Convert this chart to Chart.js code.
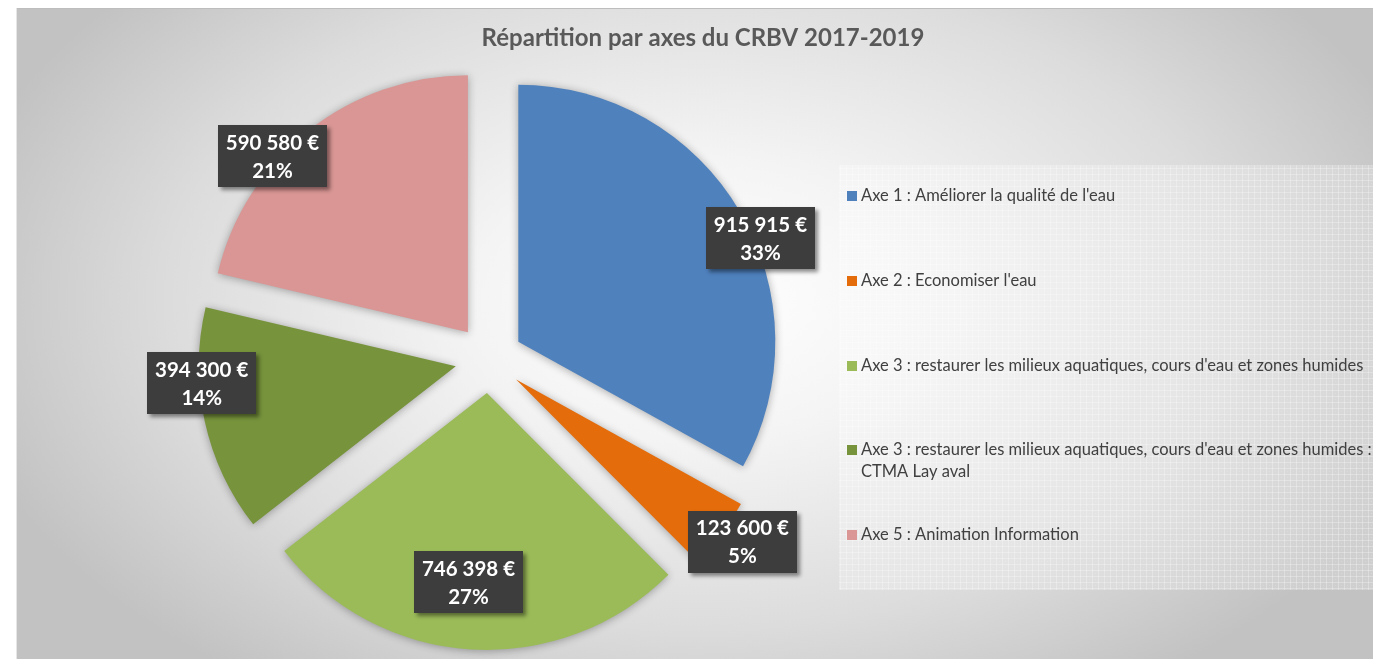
<!DOCTYPE html>
<html>
<head>
<meta charset="utf-8">
<script src="https://cdn.jsdelivr.net/npm/chart.js@4.4.1/dist/chart.umd.min.js"></script>
<style>
  html, body { margin: 0; padding: 0; background: #fff; }
  canvas { display: block; }
</style>
</head>
<body>
<canvas id="crbv" width="1373" height="659"></canvas>
<script>
const chartTitle = 'Répartition par axes du CRBV 2017-2019';
const categories = [
  "Axe 1 : Améliorer la qualité de l'eau",
  "Axe 2 : Economiser l'eau",
  "Axe 3 : restaurer les milieux aquatiques, cours d'eau et zones humides",
  "Axe 3 : restaurer les milieux aquatiques, cours d'eau et zones humides : CTMA Lay aval",
  "Axe 5 : Animation Information"
];
const amounts = [915915, 123600, 746398, 394300, 590580];
const percentLabels = ['33%', '5%', '27%', '14%', '21%'];
const sliceColors = ['#4f81bd', '#e46c0a', '#9bbb59', '#77933c', '#d99694'];

// where each value box sits: [radius factor, angle shift in degrees from the slice middle]
const labelPlacement = [[1.025, 7.3], [1.083, -1.4], [0.74, 2.0], [0.991, 8.5], [1.024, -9.6]];

const FONT = 'Lato, "Open Sans", sans-serif';
const EXPLODE = 34;

function euros(n) {
  return String(n).replace(/\B(?=(\d{3})+(?!\d))/g, ' ') + ' €';
}

function wrapText(ctx, text, maxW) {
  const words = text.split(' ');
  const lines = [];
  let line = '';
  words.forEach(w => {
    const test = line ? line + ' ' + w : w;
    if (ctx.measureText(test).width > maxW && line) {
      lines.push(line);
      line = w;
    } else {
      line = test;
    }
  });
  lines.push(line);
  return lines;
}

function gridPattern(ctx) {
  const c = document.createElement('canvas');
  c.width = 6; c.height = 6;
  const p = c.getContext('2d');
  p.fillStyle = 'rgba(255,255,255,0.28)';
  p.fillRect(0, 0, 6, 1);
  p.fillRect(0, 0, 1, 6);
  p.fillStyle = 'rgba(255,255,255,0.15)';
  p.fillRect(3, 3, 1, 1);
  return ctx.createPattern(c, 'repeat');
}

// frame, gradient background, title and legend
const backdrop = {
  id: 'backdrop',
  beforeDraw(chart) {
    const ctx = chart.ctx;
    const W = chart.width, H = chart.height;
    ctx.save();
    ctx.fillStyle = '#fff';
    ctx.fillRect(0, 0, W, H);

    const x0 = 17, y0 = 9;
    const cx = 700, cy = 300, rx = 760, ry = 470;
    ctx.save();
    ctx.translate(cx, cy);
    ctx.scale(1, ry / rx);
    const g = ctx.createRadialGradient(0, 0, 0, 0, 0, rx);
    g.addColorStop(0, '#ffffff');
    g.addColorStop(0.3, '#f4f4f4');
    g.addColorStop(0.7, '#dcdcdc');
    g.addColorStop(1, '#c2c2c2');
    ctx.fillStyle = g;
    ctx.fillRect(x0 - cx, (y0 - cy) * rx / ry, W - x0, (H - y0) * rx / ry);
    ctx.restore();

    ctx.fillStyle = '#bdbdbd';
    ctx.fillRect(x0, y0 - 1, W - x0, 1);
    ctx.fillStyle = '#e6e6e6';
    ctx.fillRect(x0 - 1, y0 - 1, 1, H - y0 + 1);

    // title
    ctx.fillStyle = '#595959';
    ctx.font = 'bold 24px ' + FONT;
    ctx.textAlign = 'center';
    ctx.textBaseline = 'middle';
    ctx.fillText(chartTitle, 703, 38);

    // legend panel
    const lx = 839, ly = 165, lw = W - lx, lh = 425;
    ctx.fillStyle = 'rgba(255,255,255,0.22)';
    ctx.fillRect(lx, ly, lw, lh);
    ctx.fillStyle = gridPattern(ctx);
    ctx.fillRect(lx, ly, lw, lh);

    ctx.font = '16.5px ' + FONT;
    ctx.textAlign = 'left';
    const rowY = [196, 281, 366, 450, 535];
    categories.forEach((name, i) => {
      ctx.fillStyle = sliceColors[i];
      ctx.fillRect(847, rowY[i] - 5, 10, 10);
      ctx.fillStyle = '#404040';
      wrapText(ctx, name, 520).forEach((ln, k) => {
        ctx.fillText(ln, 861, rowY[i] + k * 22);
      });
    });
    ctx.restore();
  }
};

// pull every slice out along its middle angle
const explode = {
  id: 'explode',
  afterDatasetUpdate(chart, args) {
    args.meta.data.forEach(arc => {
      const mid = (arc.startAngle + arc.endAngle) / 2;
      arc.x += Math.cos(mid) * EXPLODE;
      arc.y += Math.sin(mid) * EXPLODE;
    });
  }
};

// soft shadow under the slices, then the value boxes
const sliceDecor = {
  id: 'sliceDecor',
  beforeDatasetsDraw(chart) {
    const ctx = chart.ctx;
    ctx.save();
    ctx.shadowColor = 'rgba(0,0,0,0.32)';
    ctx.shadowBlur = 9;
    ctx.shadowOffsetX = 0;
    ctx.shadowOffsetY = 1;
  },
  afterDatasetsDraw(chart) {
    const ctx = chart.ctx;
    ctx.restore();
    const arcs = chart.getDatasetMeta(0).data;
    ctx.save();
    ctx.font = 'bold 20.5px ' + FONT;
    ctx.textAlign = 'center';
    ctx.textBaseline = 'middle';
    arcs.forEach((arc, i) => {
      const [f, shift] = labelPlacement[i];
      const a = (arc.startAngle + arc.endAngle) / 2 + shift * Math.PI / 180;
      const x = arc.x + Math.cos(a) * arc.outerRadius * f;
      const y = arc.y + Math.sin(a) * arc.outerRadius * f;
      const l1 = euros(amounts[i]);
      const l2 = percentLabels[i];
      const w = Math.max(ctx.measureText(l1).width, ctx.measureText(l2).width) + 16;
      const h = 62;
      ctx.save();
      ctx.shadowColor = 'rgba(0,0,0,0.45)';
      ctx.shadowBlur = 4;
      ctx.shadowOffsetX = 3;
      ctx.shadowOffsetY = 3;
      ctx.fillStyle = '#3d3d3d';
      ctx.fillRect(Math.round(x - w / 2), Math.round(y - h / 2), Math.round(w), h);
      ctx.restore();
      ctx.fillStyle = '#ffffff';
      ctx.fillText(l1, x, y - 13);
      ctx.fillText(l2, x, y + 15);
    });
    ctx.restore();
  }
};

new Chart(document.getElementById('crbv'), {
  type: 'pie',
  data: {
    labels: categories,
    datasets: [{
      data: amounts,
      backgroundColor: sliceColors,
      borderWidth: 0,
      radius: 257
    }]
  },
  options: {
    responsive: false,
    animation: false,
    events: [],
    layout: { padding: { left: 190, right: 585, top: 90, bottom: 31 } },
    plugins: {
      legend: { display: false },
      title: { display: false },
      tooltip: { enabled: false }
    }
  },
  plugins: [backdrop, explode, sliceDecor]
});
</script>
</body>
</html>
